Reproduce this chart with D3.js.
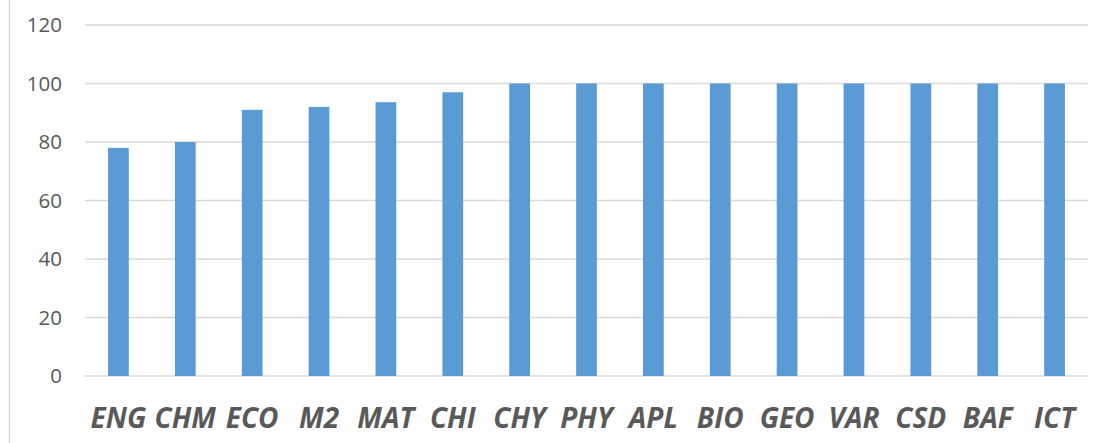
<!DOCTYPE html>
<html>
<head>
<meta charset="utf-8">
<script src="https://cdn.jsdelivr.net/npm/d3@7"></script>
<style>
  body { margin: 0; background: #fff; }
</style>
</head>
<body>
<svg id="chart"></svg>
<script>
const subjects = ["ENG", "CHM", "ECO", "M2", "MAT", "CHI", "CHY", "PHY", "APL", "BIO", "GEO", "VAR", "CSD", "BAF", "ICT"];
const scores = [78, 80, 91, 92, 93.6, 97, 100, 100, 100, 100, 100, 100, 100, 100, 100];
const y_ticks = [0, 20, 40, 60, 80, 100, 120];

const width = 1106, height = 443;
const margin = {top: 25, right: 18, bottom: 67, left: 85};

const svg = d3.select("#chart")
              .attr("width", width)
              .attr("height", height);

// faint chart border on the left
svg.append("line")
   .attr("x1", 9.5).attr("x2", 9.5)
   .attr("y1", 0).attr("y2", height)
   .attr("stroke", "#d9d9d9")
   .attr("stroke-width", 1.5);

const x = d3.scaleBand()
            .domain(subjects)
            .range([margin.left, width - margin.right])
            .paddingInner(0.69)
            .paddingOuter(0.345);

const y = d3.scaleLinear()
            .domain([0, 120])
            .range([height - margin.bottom, margin.top]);

// gridlines
svg.append("g")
   .selectAll("line")
   .data(y_ticks)
   .enter()
   .append("line")
   .attr("x1", margin.left)
   .attr("x2", width - margin.right)
   .attr("y1", d => y(d))
   .attr("y2", d => y(d))
   .attr("stroke", "#d9d9d9")
   .attr("stroke-width", 1.5);

// y tick labels
svg.append("g")
   .selectAll("text")
   .data(y_ticks)
   .enter()
   .append("text")
   .attr("x", 62)
   .attr("y", d => y(d))
   .attr("dy", "0.36em")
   .attr("text-anchor", "end")
   .attr("font-family", "'Open Sans', sans-serif")
   .attr("font-size", 20.5)
   .attr("fill", "#595959")
   .text(d => d);

// bars
svg.append("g")
   .selectAll("rect")
   .data(subjects)
   .enter()
   .append("rect")
   .attr("x", d => x(d))
   .attr("width", x.bandwidth())
   .attr("y", (d, i) => y(scores[i]))
   .attr("height", (d, i) => y(0) - y(scores[i]))
   .attr("fill", "#5b9bd5");

// x labels
svg.append("g")
   .selectAll("text")
   .data(subjects)
   .enter()
   .append("text")
   .attr("x", d => x(d) + x.bandwidth() / 2)
   .attr("y", 428)
   .attr("text-anchor", "middle")
   .attr("font-family", "'Open Sans', sans-serif")
   .attr("font-size", 28)
   .attr("font-weight", "bold")
   .attr("font-style", "italic")
   .attr("fill", "#595959")
   .text(d => d);
</script>
</body>
</html>
